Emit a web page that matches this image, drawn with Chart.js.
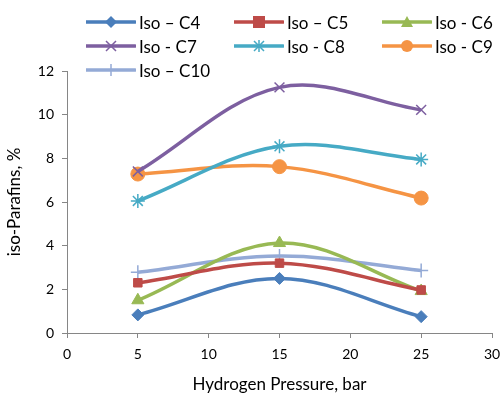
<!DOCTYPE html>
<html>
<head>
<meta charset="utf-8">
<script src="https://cdn.jsdelivr.net/npm/chart.js@4/dist/chart.umd.min.js"></script>
<style>
  html, body { margin: 0; padding: 0; background: #fff; }
  #wrap { position: relative; width: 501px; height: 399px; }
  #legend { position: absolute; left: 86px; top: 12px; width: 415px; display: grid;
            grid-template-columns: 148px 148px 119px; row-gap: 4px;
            font-family: Lato, 'Liberation Sans', sans-serif; font-size: 17px; color: #000; }
  .item { display: flex; align-items: center; height: 20px; white-space: nowrap; }
  .item svg { margin-right: 3px; }
</style>
</head>
<body>
<div id="wrap">
  <canvas id="c" width="501" height="399"></canvas>
  <div id="legend"></div>
</div>
<script>
const pressure = [5, 15, 25];
const seriesNames = ['Iso \u2013 C4', 'Iso \u2013 C5', 'Iso - C6', 'Iso - C7', 'Iso - C8', 'Iso - C9', 'Iso \u2013 C10'];
const isoC4 = [0.83, 2.5, 0.75];
const isoC5 = [2.3, 3.2, 1.97];
const isoC6 = [1.5, 4.12, 1.92];
const isoC7 = [7.4, 11.25, 10.22];
const isoC8 = [6.05, 8.55, 7.95];
const isoC9 = [7.28, 7.62, 6.18];
const isoC10 = [2.78, 3.53, 2.86];
const xTicks = [0, 5, 10, 15, 20, 25, 30];

const colors = ['#4A7EBB', '#BE4B48', '#98B954', '#7D5FA0', '#46AAC5', '#F59444', '#94AAD6'];
const styles = ['rectRot', 'rect', 'triangle', 'crossRot', 'star', 'circle', 'cross'];
const radii = [6, 6, 7, 7, 7, 7, 7];
const allValues = [isoC4, isoC5, isoC6, isoC7, isoC8, isoC9, isoC10];

const datasets = allValues.map((vals, i) => ({
  label: seriesNames[i],
  data: vals.map((v, k) => ({ x: pressure[k], y: v })),
  borderColor: colors[i],
  backgroundColor: colors[i],
  borderWidth: 3.5,
  pointStyle: styles[i],
  pointRadius: radii[i],
  pointBorderWidth: (styles[i] === 'crossRot' || styles[i] === 'star' || styles[i] === 'cross') ? 1.5 : 1,
  tension: 0.35
}));

// legend in html, laid over the plot like the original
function markerSvg(i) {
  const c = colors[i];
  let m = '';
  const cx = 25, cy = 10;
  switch (styles[i]) {
    case 'rectRot': m = `<polygon points="${cx},${cy-6} ${cx+6},${cy} ${cx},${cy+6} ${cx-6},${cy}" fill="${c}"/>`; break;
    case 'rect': m = `<rect x="${cx-6}" y="${cy-6}" width="12" height="12" fill="${c}"/>`; break;
    case 'triangle': m = `<polygon points="${cx},${cy-6} ${cx+6},${cy+5} ${cx-6},${cy+5}" fill="${c}"/>`; break;
    case 'crossRot': m = `<path d="M${cx-5} ${cy-5}L${cx+5} ${cy+5}M${cx+5} ${cy-5}L${cx-5} ${cy+5}" stroke="${c}" stroke-width="1.5"/>`; break;
    case 'star': m = `<path d="M${cx-5} ${cy-5}L${cx+5} ${cy+5}M${cx+5} ${cy-5}L${cx-5} ${cy+5}M${cx} ${cy-6}L${cx} ${cy+6}M${cx-6} ${cy}L${cx+6} ${cy}" stroke="${c}" stroke-width="1.5"/>`; break;
    case 'circle': m = `<circle cx="${cx}" cy="${cy}" r="6" fill="${c}"/>`; break;
    case 'cross': m = `<path d="M${cx} ${cy-6}L${cx} ${cy+6}" stroke="${c}" stroke-width="1.5"/>`; break;
  }
  return `<svg width="50" height="20"><line x1="0" y1="${cy}" x2="49" y2="${cy}" stroke="${c}" stroke-width="3.5" stroke-linecap="round"/>${m}</svg>`;
}
document.getElementById('legend').innerHTML = seriesNames.map((n, i) =>
  `<div class="item">${markerSvg(i)}<span>${n}</span></div>`).join('');

const axisFont = { family: 'Lato, "Liberation Sans", sans-serif', size: 14 };
const axisColor = '#868686';

new Chart(document.getElementById('c'), {
  type: 'line',
  data: { datasets },
  options: {
    responsive: false,
    animation: false,
    layout: { padding: { top: 71, right: 9, left: 0, bottom: 0 } },
    plugins: { legend: { display: false }, tooltip: { enabled: false } },
    scales: {
      x: {
        type: 'linear', min: 0, max: 30,
        afterBuildTicks: s => { s.ticks = xTicks.map(v => ({ value: v })); },
        grid: { drawOnChartArea: false, color: axisColor, tickLength: 5 },
        border: { color: axisColor, width: 1 },
        ticks: { color: '#000', font: axisFont, padding: 8, maxRotation: 0 },
        title: { display: true, text: 'Hydrogen Pressure, bar', color: '#000',
                 font: { family: 'Lato, "Liberation Sans", sans-serif', size: 17 }, padding: { top: 12 } },
        afterFit: s => { s.height = 66; s.paddingRight = 0; s.paddingLeft = 0; }
      },
      y: {
        min: 0, max: 12,
        ticks: { stepSize: 2, color: '#000', font: axisFont, padding: 8 },
        grid: { drawOnChartArea: false, color: axisColor, tickLength: 5 },
        border: { color: axisColor, width: 1 },
        title: { display: true, text: 'iso-Parafins, %', color: '#000',
                 font: { family: 'Lato, "Liberation Sans", sans-serif', size: 17 }, padding: { bottom: 4 } },
        afterFit: s => { s.width = 67; }
      }
    }
  }
});
</script>
</body>
</html>
